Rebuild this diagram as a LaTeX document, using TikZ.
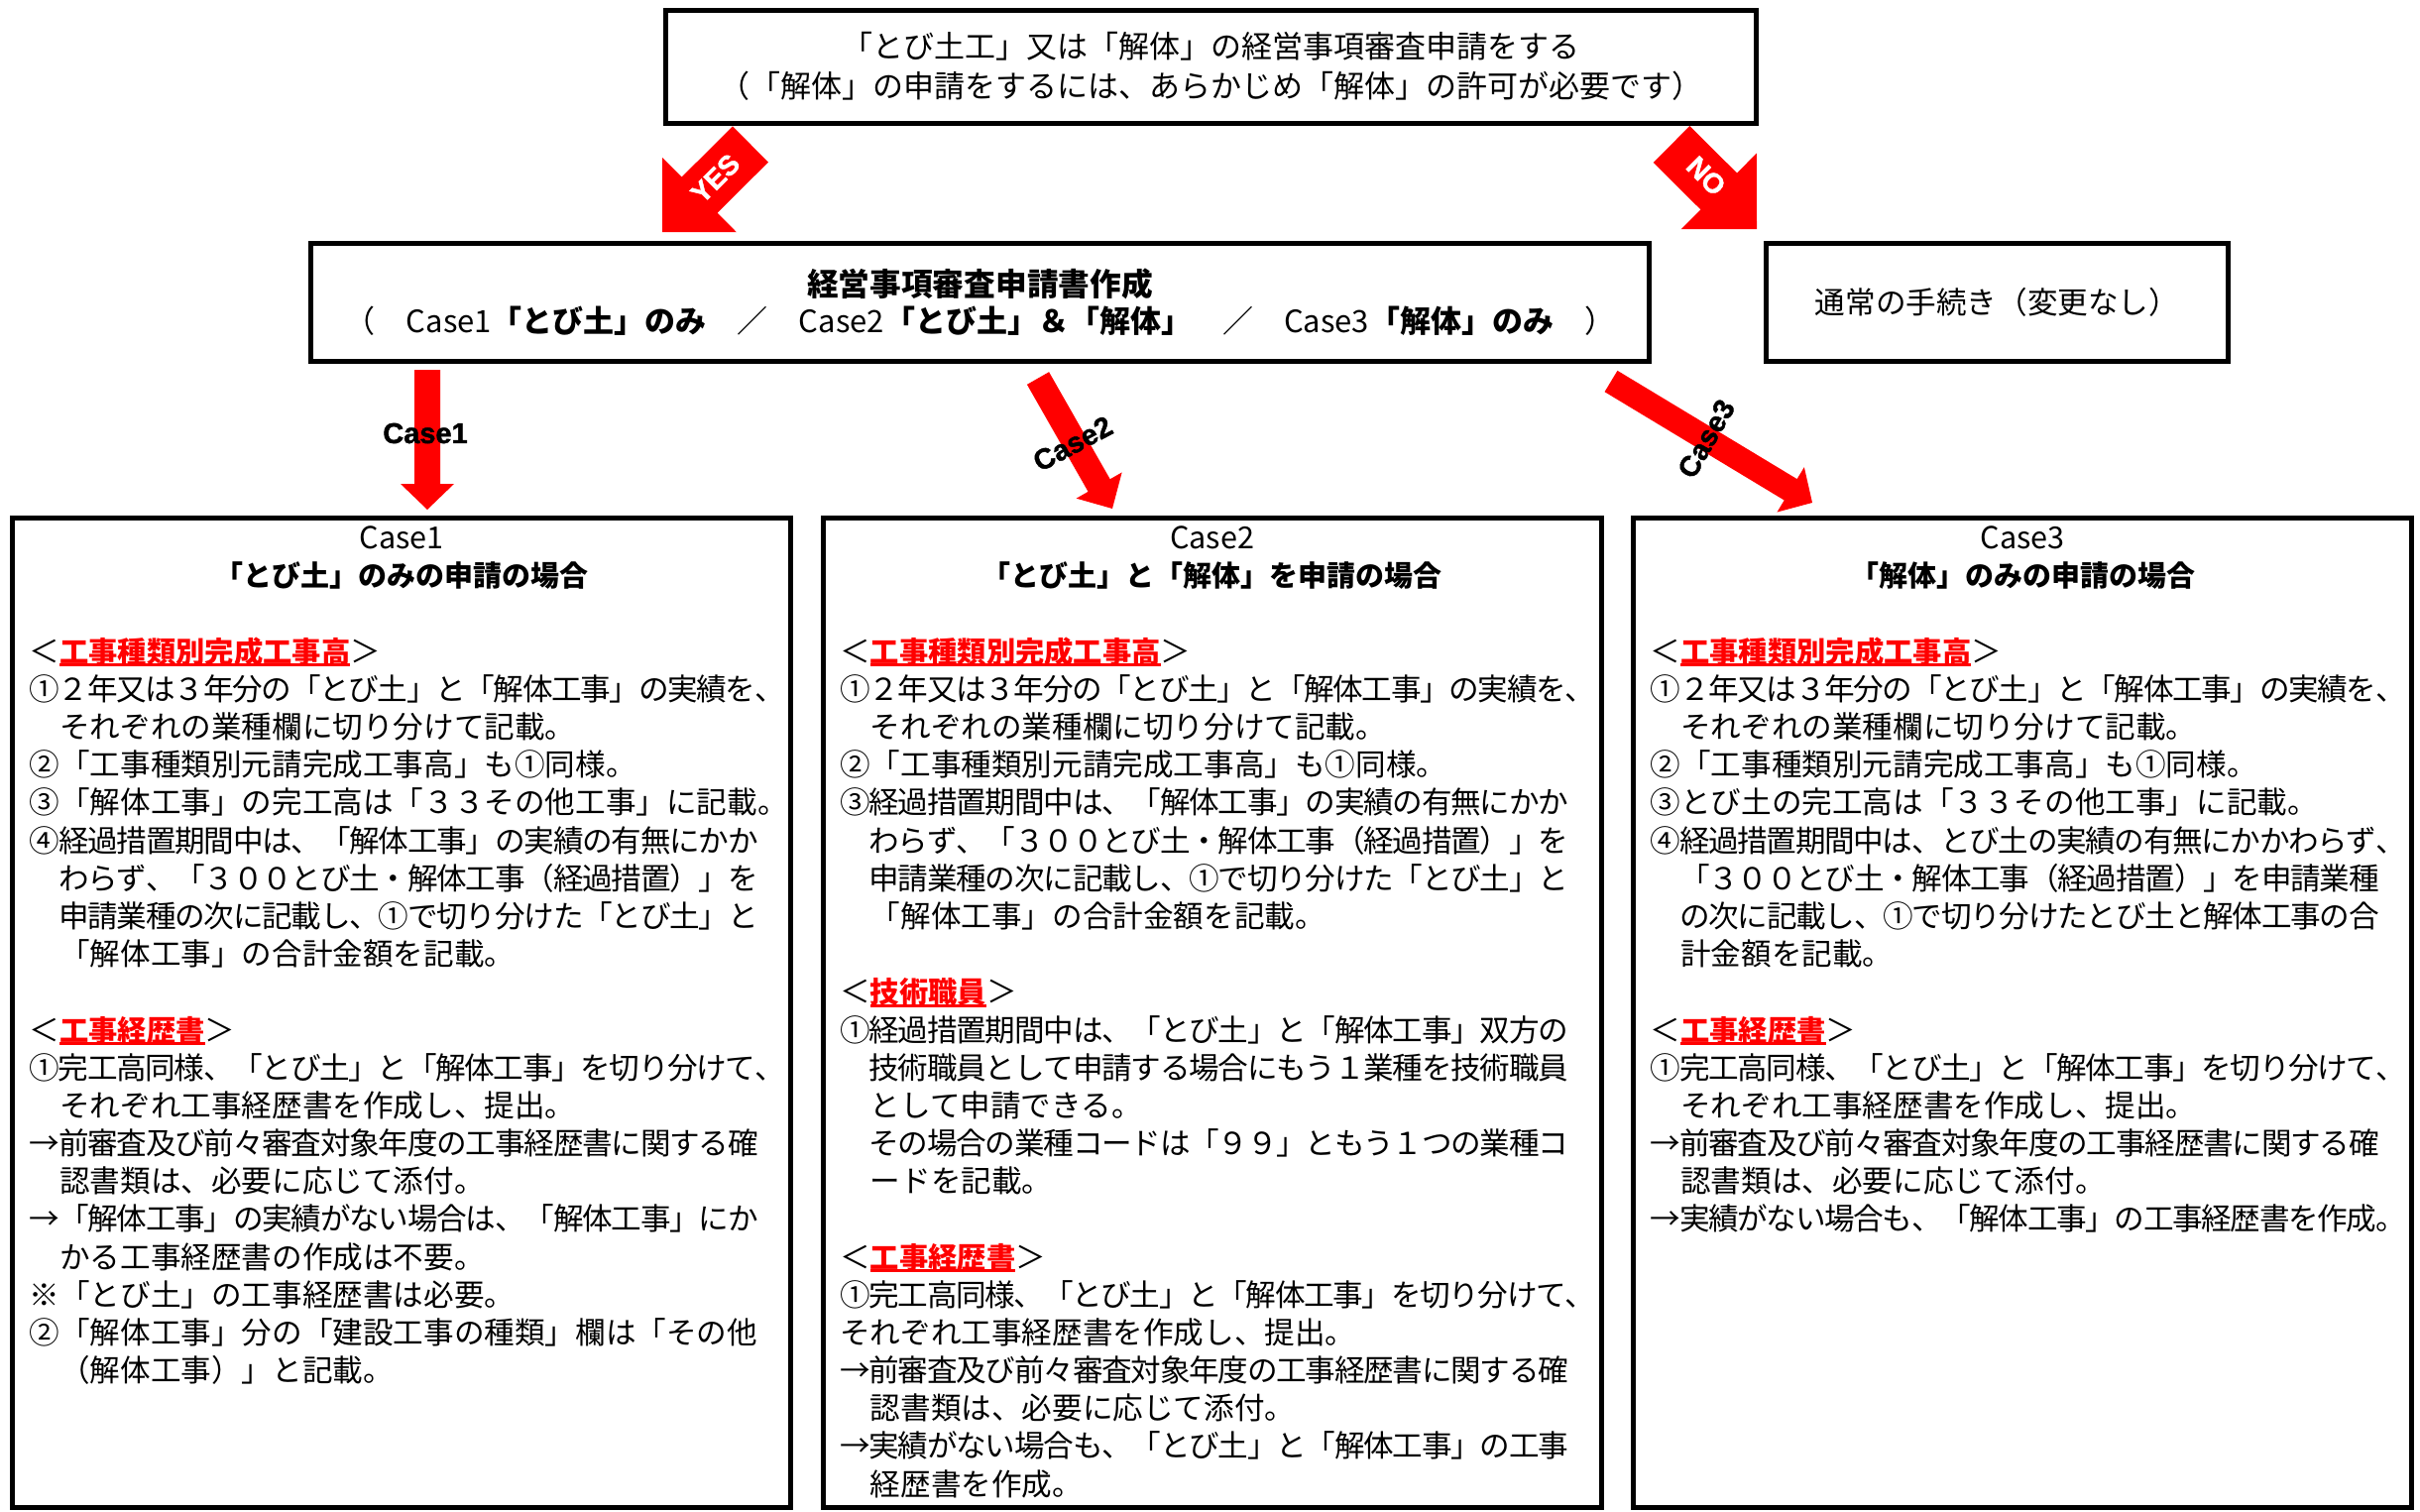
\documentclass[tikz,border=0pt]{standalone}
\usepackage{fontspec}
\setmainfont{Noto Sans CJK JP}
\newfontfamily\arwfont{Liberation Sans}[BoldFeatures={FakeBold=1.5}]
\usetikzlibrary{calc}
\definecolor{arw}{RGB}{255,0,0}
\colorlet{sec-color}{arw}
\newcommand{\crd}[2]{\coordinate (#1) at (#2);}
% block arrow: tail, tip, half body, half head, head length
\newcommand{\barrow}[5]{%
  \coordinate (#2-b) at ($(#2)!#5!(#1)$);
  \fill[arw] ($(#1)!#3!90:(#2)$) -- ($(#2-b)!#3!-90:(#1)$) -- ($(#2-b)!#4!-90:(#1)$) -- (#2)
    -- ($(#2-b)!#4!90:(#1)$) -- ($(#2-b)!#3!90:(#1)$) -- ($(#1)!#3!-90:(#2)$) -- cycle;}
\newcommand{\sechd}[1]{＜{\color{sec-color}\bfseries\fontsize{29.3}{38.17}\selectfont\setbox0=\hbox{#1}\rlap{\rule[-4pt]{\wd0}{3pt}}\box0}＞}
\makeatletter
\newcommand{\fl}[2][735pt]{\leavevmode\hbox to #1{\@tfor\jc:=#2\do{\jc\hskip 0pt plus 1fil minus 1fil}\unskip}}
\makeatother

\begin{document}
\begin{tikzpicture}[x=1pt,y=-1pt,
  frame/.style={draw,line width=5pt,outer sep=0pt,inner sep=0pt},
  ttl/.style={align=center,inner sep=0pt,anchor=base,font=\fontsize{30.6}{38.3}\selectfont},
  body/.style={align=left,text width=770pt,inner sep=0pt,anchor=base west,font=\fontsize{30.6}{38.17}\selectfont},
  alabel/.style={inner sep=0pt,font=\arwfont\bfseries\fontsize{29}{29}\selectfont},
  yn/.style={inner sep=0pt,text=white,font=\arwfont\bfseries\fontsize{28}{28}\selectfont}]
    \pgfmathsetmacro{\bw}{785};
    \pgfmathsetmacro{\bh}{998};
    \pgfmathsetmacro{\by}{522.5};
    \fill[white] (0,0) rectangle (2441,1524);
    \useasboundingbox (0,0) rectangle (2441,1524);

    \node[frame,minimum width=1100pt,minimum height=113.5pt,align=center,font=\fontsize{31}{40}\selectfont] (req) at (1221,67.25)
      {「とび土工」又は「解体」の経営事項審査申請をする\\（「解体」の申請をするには、あらかじめ「解体」の許可が必要です）};
    \node[frame,minimum width=1350pt,minimum height=119pt,align=center,font=\fontsize{31}{37}\selectfont] (mk) at (988.5,305)
      {{\bfseries\fontsize{31.7}{37}\selectfont 経営事項審査申請書作成}\\（　Case1{\bfseries「とび土」のみ}　／　Case2{\bfseries「とび土」＆「解体」}　／　Case3{\bfseries「解体」のみ}　）};
    \node[frame,minimum width=466pt,minimum height=119pt,font=\fontsize{30.6}{37}\selectfont] (nrm) at (2014.5,305) {通常の手続き（変更なし）};

    \node[frame,minimum width=\bw pt,minimum height=\bh pt,anchor=north west] (c1) at (12.5,\by) {};
    \node[frame,minimum width=\bw pt,minimum height=\bh pt,anchor=north west] (c2) at (830,\by) {};
    \node[frame,minimum width=\bw pt,minimum height=\bh pt,anchor=north west] (c3) at (1647.5,\by) {};

    \node[ttl] (c1t) at ($(c1.north)+(0,68.8)$) {Case1\\{\bfseries\fontsize{29}{38.3}\selectfont「とび土」のみの申請の場合}};
    \node[ttl] (c2t) at ($(c2.north)+(0,68.8)$) {Case2\\{\bfseries\fontsize{29}{38.3}\selectfont「とび土」と「解体」を申請の場合}};
    \node[ttl] (c3t) at ($(c3.north)+(0,68.8)$) {Case3\\{\bfseries\fontsize{29}{38.3}\selectfont「解体」のみの申請の場合}};

    \node[body] (c1b) at ($(c1.north west)+(17,145.8)$) {\sechd{工事種類別完成工事高}\\
\fl[762pt]{①２年又は３年分の「とび土」と「解体工事」の実績を、}\\
　それぞれの業種欄に切り分けて記載。\\
②「工事種類別元請完成工事高」も①同様。\\
③「解体工事」の完工高は「３３その他工事」に記載。\\
\fl{④経過措置期間中は、「解体工事」の実績の有無にかか}\\
\fl{　わらず、「３００とび土・解体工事（経過措置）」を}\\
\fl{　申請業種の次に記載し、①で切り分けた「とび土」と}\\
　「解体工事」の合計金額を記載。\\
\mbox{}\\
\sechd{工事経歴書}\\
\fl[762pt]{①完工高同様、「とび土」と「解体工事」を切り分けて、}\\
　それぞれ工事経歴書を作成し、提出。\\
\fl{→前審査及び前々審査対象年度の工事経歴書に関する確}\\
　認書類は、必要に応じて添付。\\
\fl{→「解体工事」の実績がない場合は、「解体工事」にか}\\
　かる工事経歴書の作成は不要。\\
※「とび土」の工事経歴書は必要。\\
②「解体工事」分の「建設工事の種類」欄は「その他\\
　（解体工事）」と記載。};

    \node[body] (c2b) at ($(c2.north west)+(17,145.8)$) {\sechd{工事種類別完成工事高}\\
\fl[762pt]{①２年又は３年分の「とび土」と「解体工事」の実績を、}\\
　それぞれの業種欄に切り分けて記載。\\
②「工事種類別元請完成工事高」も①同様。\\
\fl{③経過措置期間中は、「解体工事」の実績の有無にかか}\\
\fl{　わらず、「３００とび土・解体工事（経過措置）」を}\\
\fl{　申請業種の次に記載し、①で切り分けた「とび土」と}\\
　「解体工事」の合計金額を記載。\\
\mbox{}\\
\sechd{技術職員}\\
\fl{①経過措置期間中は、「とび土」と「解体工事」双方の}\\
\fl{　技術職員として申請する場合にもう１業種を技術職員}\\
　として申請できる。\\
\fl{　その場合の業種コードは「９９」ともう１つの業種コ}\\
　ードを記載。\\
\mbox{}\\
\sechd{工事経歴書}\\
\fl[762pt]{①完工高同様、「とび土」と「解体工事」を切り分けて、}\\
それぞれ工事経歴書を作成し、提出。\\
\fl{→前審査及び前々審査対象年度の工事経歴書に関する確}\\
　認書類は、必要に応じて添付。\\
\fl{→実績がない場合も、「とび土」と「解体工事」の工事}\\
　経歴書を作成。};

    \node[body] (c3b) at ($(c3.north west)+(17,145.8)$) {\sechd{工事種類別完成工事高}\\
\fl[762pt]{①２年又は３年分の「とび土」と「解体工事」の実績を、}\\
　それぞれの業種欄に切り分けて記載。\\
②「工事種類別元請完成工事高」も①同様。\\
③とび土の完工高は「３３その他工事」に記載。\\
\fl[762pt]{④経過措置期間中は、とび土の実績の有無にかかわらず、}\\
\fl{　「３００とび土・解体工事（経過措置）」を申請業種}\\
\fl{　の次に記載し、①で切り分けたとび土と解体工事の合}\\
　計金額を記載。\\
\mbox{}\\
\sechd{工事経歴書}\\
\fl[762pt]{①完工高同様、「とび土」と「解体工事」を切り分けて、}\\
　それぞれ工事経歴書を作成し、提出。\\
\fl{→前審査及び前々審査対象年度の工事経歴書に関する確}\\
　認書類は、必要に応じて添付。\\
\fl[762pt]{→実績がない場合も、「解体工事」の工事経歴書を作成。}};

    % arrows
    \crd{yt}{757,145.5} \crd{yh}{668,234}
    \crd{nt}{1686,145.5} \crd{nh}{1772,231}
    \crd{a1t}{431,373} \crd{a1h}{431,514}
    \crd{a2t}{1047,381.5} \crd{a2h}{1122,513}
    \crd{a3t}{1625,384.5} \crd{a3h}{1828,507}
    \barrow{yt}{yh}{25.5pt}{53pt}{53pt}
    \barrow{nt}{nh}{26pt}{54pt}{54pt}
    \barrow{a1t}{a1h}{13pt}{27pt}{26pt}
    \barrow{a2t}{a2h}{12.75pt}{26.5pt}{27pt}
    \barrow{a3t}{a3h}{12.5pt}{26.5pt}{25.5pt}
    \node[yn,rotate=45] (lyes) at (721.5,180) {YES};
    \node[yn,rotate=-45] (lno) at (1721,177.5) {NO};
    \node[alabel] (l1) at (429,437) {Case1};
    \node[alabel,rotate=28] (l2) at (1082,447.5) {Case2};
    \node[alabel,rotate=60] (l3) at (1721,442.5) {Case3};
\end{tikzpicture}
\end{document}
